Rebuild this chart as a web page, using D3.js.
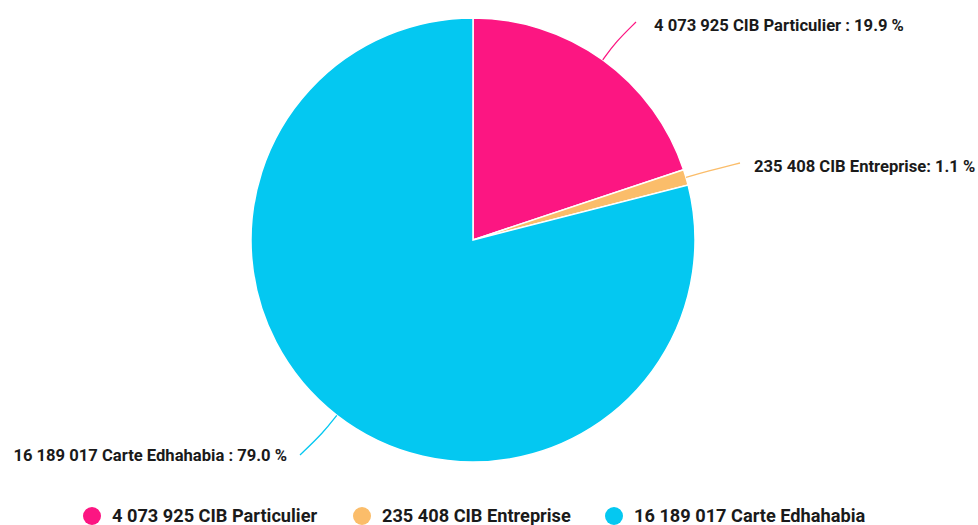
<!DOCTYPE html>
<html>
<head>
<meta charset="utf-8">
<script src="https://cdn.jsdelivr.net/npm/d3@7"></script>
<style>
  body { margin: 0; background: #fff; }
  text { font-family: Roboto, "Noto Sans", sans-serif; font-weight: bold; fill: #1a1a1a; }
</style>
</head>
<body>
<div id="chart"></div>
<script>
// data
const categories = ["4 073 925 CIB Particulier", "235 408 CIB Entreprise", "16 189 017 Carte Edhahabia"];
const values = [4073925, 235408, 16189017];
const labels = ["4 073 925 CIB Particulier : 19.9 %", "235 408 CIB Entreprise: 1.1 %", "16 189 017 Carte Edhahabia : 79.0 %"];
const colors = ["#fc1682", "#fbbd6a", "#04c8f1"];

const width = 978, height = 525;
const cx = 473, cy = 240, radius = 222;

const svg = d3.select("#chart")
  .append("svg")
  .attr("width", width)
  .attr("height", height);

const data = categories.map((c, i) => ({ name: c, value: values[i], label: labels[i], color: colors[i] }));

const pie = d3.pie().value((d) => d.value).sort(null);
const arcs = pie(data);
const arc = d3.arc().innerRadius(0).outerRadius(radius);

const g = svg.append("g").attr("transform", "translate(" + cx + "," + cy + ")");

g.selectAll(".slice")
  .data(arcs)
  .join("path")
  .attr("class", "slice")
  .attr("d", arc)
  .attr("fill", (d) => d.data.color)
  .attr("stroke", "#fff")
  .attr("stroke-width", 1.5);

// leader lines: start on the arc, bend out to the label
const labelPos = [
  { end: [163, -218], text: [181, -213], anchor: "start" },
  { end: [267, -77], text: [281, -72], anchor: "start" },
  { end: [-173, 215], text: [-186, 217], anchor: "end" }
];

const line = d3.line().curve(d3.curveBasis);

g.selectAll(".leader")
  .data(arcs)
  .join("path")
  .attr("class", "leader")
  .attr("fill", "none")
  .attr("stroke", (d) => d.data.color)
  .attr("stroke-width", 1.3)
  .attr("d", (d, i) => {
    const a = (d.startAngle + d.endAngle) / 2;
    const p0 = [Math.sin(a) * radius, -Math.cos(a) * radius];
    const p1 = [Math.sin(a) * (radius + 22), -Math.cos(a) * (radius + 22)];
    const p2 = labelPos[i].end;
    return line([p0, p1, p2]);
  });

g.selectAll(".label")
  .data(arcs)
  .join("text")
  .attr("class", "label")
  .attr("x", (d, i) => labelPos[i].text[0])
  .attr("y", (d, i) => labelPos[i].text[1])
  .attr("text-anchor", (d, i) => labelPos[i].anchor)
  .attr("dominant-baseline", "middle")
  .style("font-size", "16.6px")
  .text((d) => d.data.label);

// legend
const legendX = [92, 362, 614];
const legend = svg.append("g").attr("class", "legend");

legend.selectAll("circle")
  .data(data)
  .join("circle")
  .attr("cx", (d, i) => legendX[i])
  .attr("cy", 516)
  .attr("r", 9)
  .attr("fill", (d) => d.color);

legend.selectAll("text")
  .data(data)
  .join("text")
  .attr("x", (d, i) => legendX[i] + 20)
  .attr("y", 517)
  .attr("dominant-baseline", "middle")
  .style("font-size", "18.2px")
  .text((d) => d.name);
</script>
</body>
</html>
